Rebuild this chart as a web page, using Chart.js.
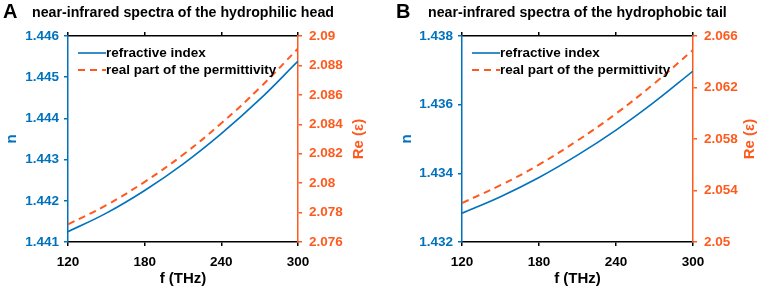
<!DOCTYPE html>
<html>
<head>
<meta charset="utf-8">
<script src="https://cdn.jsdelivr.net/npm/chart.js@4"></script>
<style>
  body { margin: 0; background: #fff; width: 761px; height: 291px; position: relative; overflow: hidden;
         font-family: "Liberation Sans", Arial, sans-serif; }
  canvas { position: absolute; top: 0; }
  .lbl { position: absolute; font-weight: bold; line-height: 1; white-space: nowrap; color: #000; }
</style>
</head>
<body>
<canvas id="cA" width="380" height="291" style="left:0"></canvas>
<canvas id="cB" width="381" height="291" style="left:380px"></canvas>
<div class="lbl" style="left:3px;top:1px;font-size:20px">A</div>
<div class="lbl" style="left:32px;top:5px;font-size:14.2px">near-infrared spectra of the hydrophilic head</div>
<div class="lbl" style="left:396px;top:1px;font-size:20px">B</div>
<div class="lbl" style="left:428px;top:5px;font-size:14.2px">near-infrared spectra of the hydrophobic tail</div>
<script>
// frequency (THz)
const freqs = [120, 150, 180, 210, 240, 270, 300];
const fTicks = [120, 180, 240, 300];

// hydrophilic head
const nHead   = [1.44125, 1.44170, 1.44225, 1.44289, 1.44363, 1.44446, 1.44539];
const epsHead = [2.07720, 2.07850, 2.08009, 2.08193, 2.08407, 2.08647, 2.08915];
const nHeadTicks   = [1.441, 1.442, 1.443, 1.444, 1.445, 1.446];
const epsHeadTicks = [2.076, 2.078, 2.08, 2.082, 2.084, 2.086, 2.088, 2.09];

// hydrophobic tail
const nTail   = [1.43284, 1.43332, 1.43388, 1.43453, 1.43526, 1.43608, 1.43698];
const epsTail = [2.05303, 2.05441, 2.05601, 2.05788, 2.05997, 2.06233, 2.06491];
const nTailTicks   = [1.432, 1.434, 1.436, 1.438];
const epsTailTicks = [2.05, 2.054, 2.058, 2.062, 2.066];

const BLUE = '#0072BD';
const ORANGE = '#FF5A1E';
const FONT = '"Liberation Sans", Arial, sans-serif';

function build(id, p) {
  const tickFont = { family: FONT, size: 13.5, weight: 'bold' };
  const titleFont = { family: FONT, size: 15, weight: 'bold' };
  const setTicks = vals => s => { s.ticks = vals.map(v => ({ value: v })); };
  const fmt = v => String(+v.toFixed(4));

  // legend drawn inside the plot, MATLAB style
  const legendBox = {
    id: 'legendBox',
    afterDatasetsDraw(chart) {
      const { ctx, chartArea } = chart;
      ctx.save();
      ctx.font = 'bold 13.5px ' + FONT;
      ctx.textBaseline = 'middle';
      chart.data.datasets.forEach((ds, i) => {
        const y = chartArea.top + 17 + i * 17;
        const x0 = chartArea.left + 10;
        ctx.strokeStyle = ds.borderColor;
        ctx.lineWidth = ds.borderWidth;
        ctx.setLineDash(ds.borderDash || []);
        ctx.beginPath();
        ctx.moveTo(x0, y);
        ctx.lineTo(x0 + 28, y);
        ctx.stroke();
        ctx.setLineDash([]);
        ctx.fillStyle = '#000';
        ctx.fillText(ds.label, x0 + 28, y);
      });
      ctx.restore();
    }
  };

  // right axis title reads bottom-to-top
  const rightTitle = {
    id: 'rightTitle',
    afterDraw(chart) {
      const { ctx, chartArea } = chart;
      ctx.save();
      ctx.translate(chartArea.right + p.rOff, (chartArea.top + chartArea.bottom) / 2);
      ctx.rotate(-Math.PI / 2);
      ctx.font = 'bold 15px ' + FONT;
      ctx.fillStyle = ORANGE;
      ctx.textAlign = 'center';
      ctx.textBaseline = 'middle';
      ctx.fillText('Re (ε)', 0, 0);
      ctx.restore();
    }
  };

  return new Chart(document.getElementById(id), {
    type: 'line',
    data: {
      datasets: [
        {
          label: 'refractive index',
          data: freqs.map((f, i) => ({ x: f, y: p.n[i] })),
          yAxisID: 'y',
          borderColor: BLUE,
          borderWidth: 1.6,
          pointRadius: 0,
          tension: 0.4
        },
        {
          label: 'real part of the permittivity',
          data: freqs.map((f, i) => ({ x: f, y: p.eps[i] })),
          yAxisID: 'y2',
          borderColor: ORANGE,
          borderWidth: 2,
          borderDash: [7, 5],
          pointRadius: 0,
          tension: 0.4
        }
      ]
    },
    options: {
      responsive: false,
      animation: false,
      devicePixelRatio: 1,
      layout: { padding: 0 },
      plugins: { legend: { display: false }, tooltip: { enabled: false } },
      scales: {
        x: {
          type: 'linear', position: 'bottom', min: 120, max: 300,
          afterBuildTicks: setTicks(fTicks),
          afterFit: s => { s.height = 49; },
          border: { color: '#000', width: 1.5 },
          grid: { drawOnChartArea: false, color: '#000', tickLength: 4, lineWidth: 1.5 },
          ticks: { font: tickFont, color: '#000', padding: 8, maxRotation: 0, autoSkip: false },
          title: { display: true, text: 'f (THz)', font: titleFont, color: '#000', padding: { top: 0, bottom: 3 } }
        },
        xTop: {
          type: 'linear', position: 'top', min: 120, max: 300,
          afterBuildTicks: setTicks(fTicks),
          afterFit: s => { s.height = 36; },
          border: { color: '#000', width: 1.5 },
          grid: { drawOnChartArea: false, color: '#000', tickLength: 4, lineWidth: 1.5 },
          ticks: { display: false }
        },
        y: {
          type: 'linear', position: 'left',
          min: p.nTicks[0], max: p.nTicks[p.nTicks.length - 1],
          afterBuildTicks: setTicks(p.nTicks),
          afterFit: s => { s.width = p.left; },
          border: { color: BLUE, width: 1.5 },
          grid: { drawOnChartArea: false, color: BLUE, tickLength: 4, lineWidth: 1.5 },
          ticks: { font: tickFont, color: BLUE, padding: 5, callback: fmt },
          title: { display: true, text: 'n', font: titleFont, color: BLUE, padding: { top: p.nPad, bottom: 0 } }
        },
        y2: {
          type: 'linear', position: 'right',
          min: p.epsTicks[0], max: p.epsTicks[p.epsTicks.length - 1],
          afterBuildTicks: setTicks(p.epsTicks),
          afterFit: s => { s.width = p.right; },
          border: { color: ORANGE, width: 1.5 },
          grid: { drawOnChartArea: false, color: ORANGE, tickLength: 4, lineWidth: 1.5 },
          ticks: { font: tickFont, color: ORANGE, padding: 7, callback: fmt }
        }
      }
    },
    plugins: [legendBox, rightTitle]
  });
}

build('cA', { n: nHead, eps: epsHead, nTicks: nHeadTicks, epsTicks: epsHeadTicks,
              left: 68, right: 82, nPad: 2.5, rOff: 61 });
build('cB', { n: nTail, eps: epsTail, nTicks: nTailTicks, epsTicks: epsTailTicks,
              left: 82, right: 68, nPad: 18, rOff: 57 });
</script>
</body>
</html>
